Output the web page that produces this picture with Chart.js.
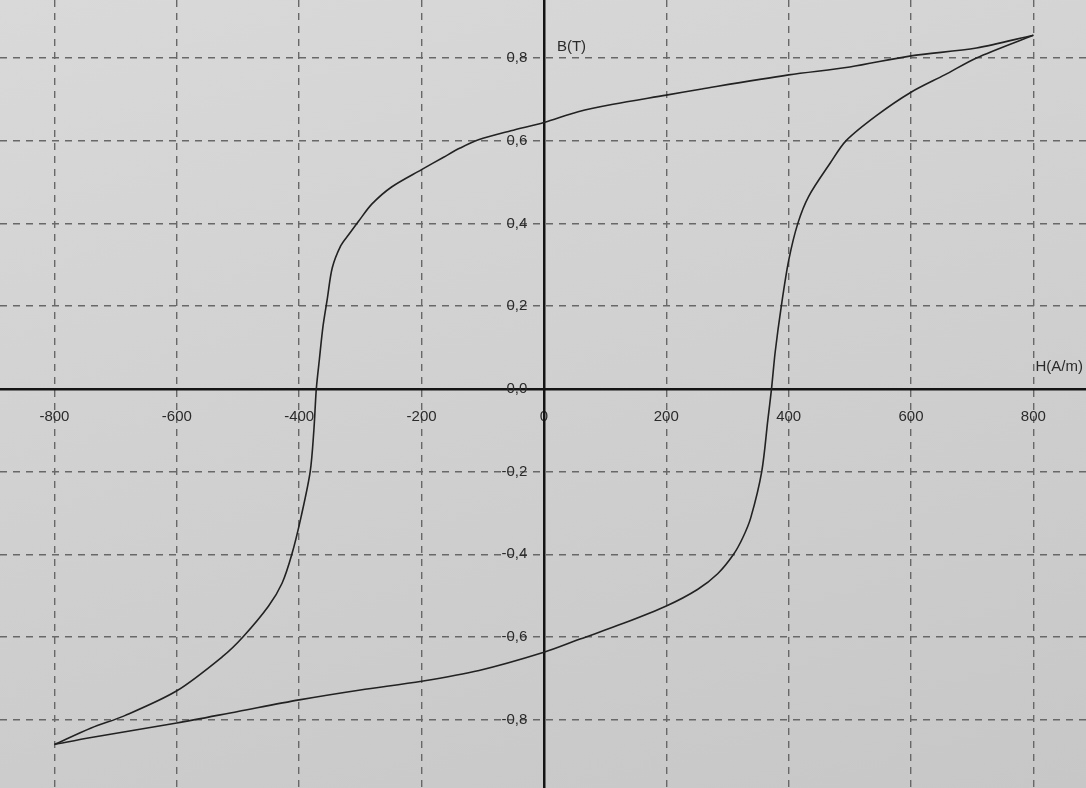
<!DOCTYPE html>
<html>
<head>
<meta charset="utf-8">
<script src="https://cdn.jsdelivr.net/npm/chart.js@4.4.1/dist/chart.umd.min.js"></script>
<style>
    html, body { margin: 0; padding: 0; }
    body {
        width: 1086px;
        height: 788px;
        overflow: hidden;
        background: linear-gradient(165deg, #d9d9d9 0%, #d1d1d1 45%, #c7c7c7 100%);
    }
    #wrap { position: relative; width: 1086px; height: 788px; }
</style>
</head>
<body>
<div id="wrap"><canvas id="loopChart"></canvas></div>
<script>
// descending branch, from +saturation down to -saturation
const upperH = [800, 707, 600, 500, 400, 258, 200, 113, 56, 0, -54, -107, -137, -164, -200, -249, -281, -302, -319, -332, -346, -354, -361, -367, -372, -376, -382, -397, -412, -428, -450, -492, -525, -600, -685, -740, -800];
const upperB = [0.855, 0.824, 0.805, 0.778, 0.759, 0.725, 0.71, 0.688, 0.67, 0.644, 0.624, 0.602, 0.582, 0.56, 0.53, 0.488, 0.447, 0.407, 0.373, 0.346, 0.292, 0.218, 0.152, 0.071, 0.0, -0.10, -0.20, -0.31, -0.40, -0.47, -0.525, -0.60, -0.647, -0.73, -0.79, -0.82, -0.86];

// ascending branch, from -saturation back up to +saturation
const lowerH = [-800, -740, -600, -500, -400, -300, -200, -106, 0, 59, 130, 200, 251, 284, 310, 325, 338, 356, 366, 372, 378, 388, 400, 415, 433, 468, 494, 544, 600, 655, 707, 800];
const lowerB = [-0.86, -0.843, -0.808, -0.78, -0.752, -0.728, -0.707, -0.681, -0.637, -0.605, -0.567, -0.525, -0.485, -0.447, -0.40, -0.36, -0.312, -0.20, -0.075, 0.0, 0.089, 0.20, 0.31, 0.40, 0.466, 0.546, 0.60, 0.661, 0.717, 0.759, 0.80, 0.855];

const hTicks = [-800, -600, -400, -200, 0, 200, 400, 600, 800];
const bTicks = [-0.8, -0.6, -0.4, -0.2, 0, 0.2, 0.4, 0.6, 0.8];

const hTitle = "H(A/m)";
const bTitle = "B(T)";

const inkColor = "#2b2b2b";
const gridColor = "#686868";

Chart.defaults.font.family = "'Liberation Sans', Arial, sans-serif";
Chart.defaults.font.size = 15;
Chart.defaults.color = inkColor;

const toPoints = (hs, bs) => hs.map((h, i) => ({ x: h, y: bs[i] }));

// axis names sit next to the axis lines, like on the printed sheet
const axisTitles = {
    id: "axisTitles",
    afterDraw(chart) {
        const { ctx, scales } = chart;
        const x0 = scales.x.getPixelForValue(0);
        const y0 = scales.y.getPixelForValue(0);
        ctx.save();
        ctx.fillStyle = inkColor;
        ctx.font = "15px 'Liberation Sans', Arial, sans-serif";
        ctx.textBaseline = "middle";
        ctx.textAlign = "left";
        ctx.fillText(bTitle, x0 + 13, 47);
        ctx.fillText(hTitle, scales.x.getPixelForValue(800) + 2, y0 - 22);
        ctx.restore();
    },
};

const ctx = document.getElementById("loopChart").getContext("2d");

new Chart(ctx, {
    type: "scatter",
    data: {
        datasets: [
            {
                label: "descending",
                data: toPoints(upperH, upperB),
            },
            {
                label: "ascending",
                data: toPoints(lowerH, lowerB),
            },
        ].map((ds) => ({
            ...ds,
            showLine: true,
            borderColor: "#222",
            borderWidth: 1.6,
            pointRadius: 0,
            tension: 0.3,
            fill: false,
        })),
    },
    options: {
        responsive: true,
        maintainAspectRatio: false,
        animation: false,
        layout: { padding: 0 },
        scales: {
            x: {
                type: "linear",
                min: -889,
                max: 886,
                position: { y: 0 },
                afterFit: (s) => {
                    s.height = 0;
                    s.paddingLeft = s.paddingRight = s.paddingTop = s.paddingBottom = 0;
                },
                afterBuildTicks: (s) => { s.ticks = hTicks.map((v) => ({ value: v })); },
                grid: { color: gridColor, lineWidth: 1.4, drawTicks: false },
                border: { display: true, color: "#141414", width: 2.5, dash: [7, 6] },
                ticks: {
                    autoSkip: false,
                    maxRotation: 0,
                    padding: 19,
                    callback: (v) => String(v),
                },
            },
            y: {
                type: "linear",
                min: -0.965,
                max: 0.94,
                position: { x: 0 },
                afterFit: (s) => {
                    s.width = 0;
                    s.paddingLeft = s.paddingRight = s.paddingTop = s.paddingBottom = 0;
                },
                afterBuildTicks: (s) => { s.ticks = bTicks.map((v) => ({ value: v })); },
                grid: { color: gridColor, lineWidth: 1.4, drawTicks: false },
                border: { display: true, color: "#141414", width: 2.5, dash: [7, 6] },
                ticks: {
                    autoSkip: false,
                    // trailing spaces keep the right-aligned label clear of the axis line
                    callback: (v) => v.toFixed(1).replace(".", ",") + "    ",
                },
            },
        },
        plugins: {
            legend: { display: false },
            tooltip: { enabled: false },
        },
    },
    plugins: [axisTitles],
});
</script>
</body>
</html>
